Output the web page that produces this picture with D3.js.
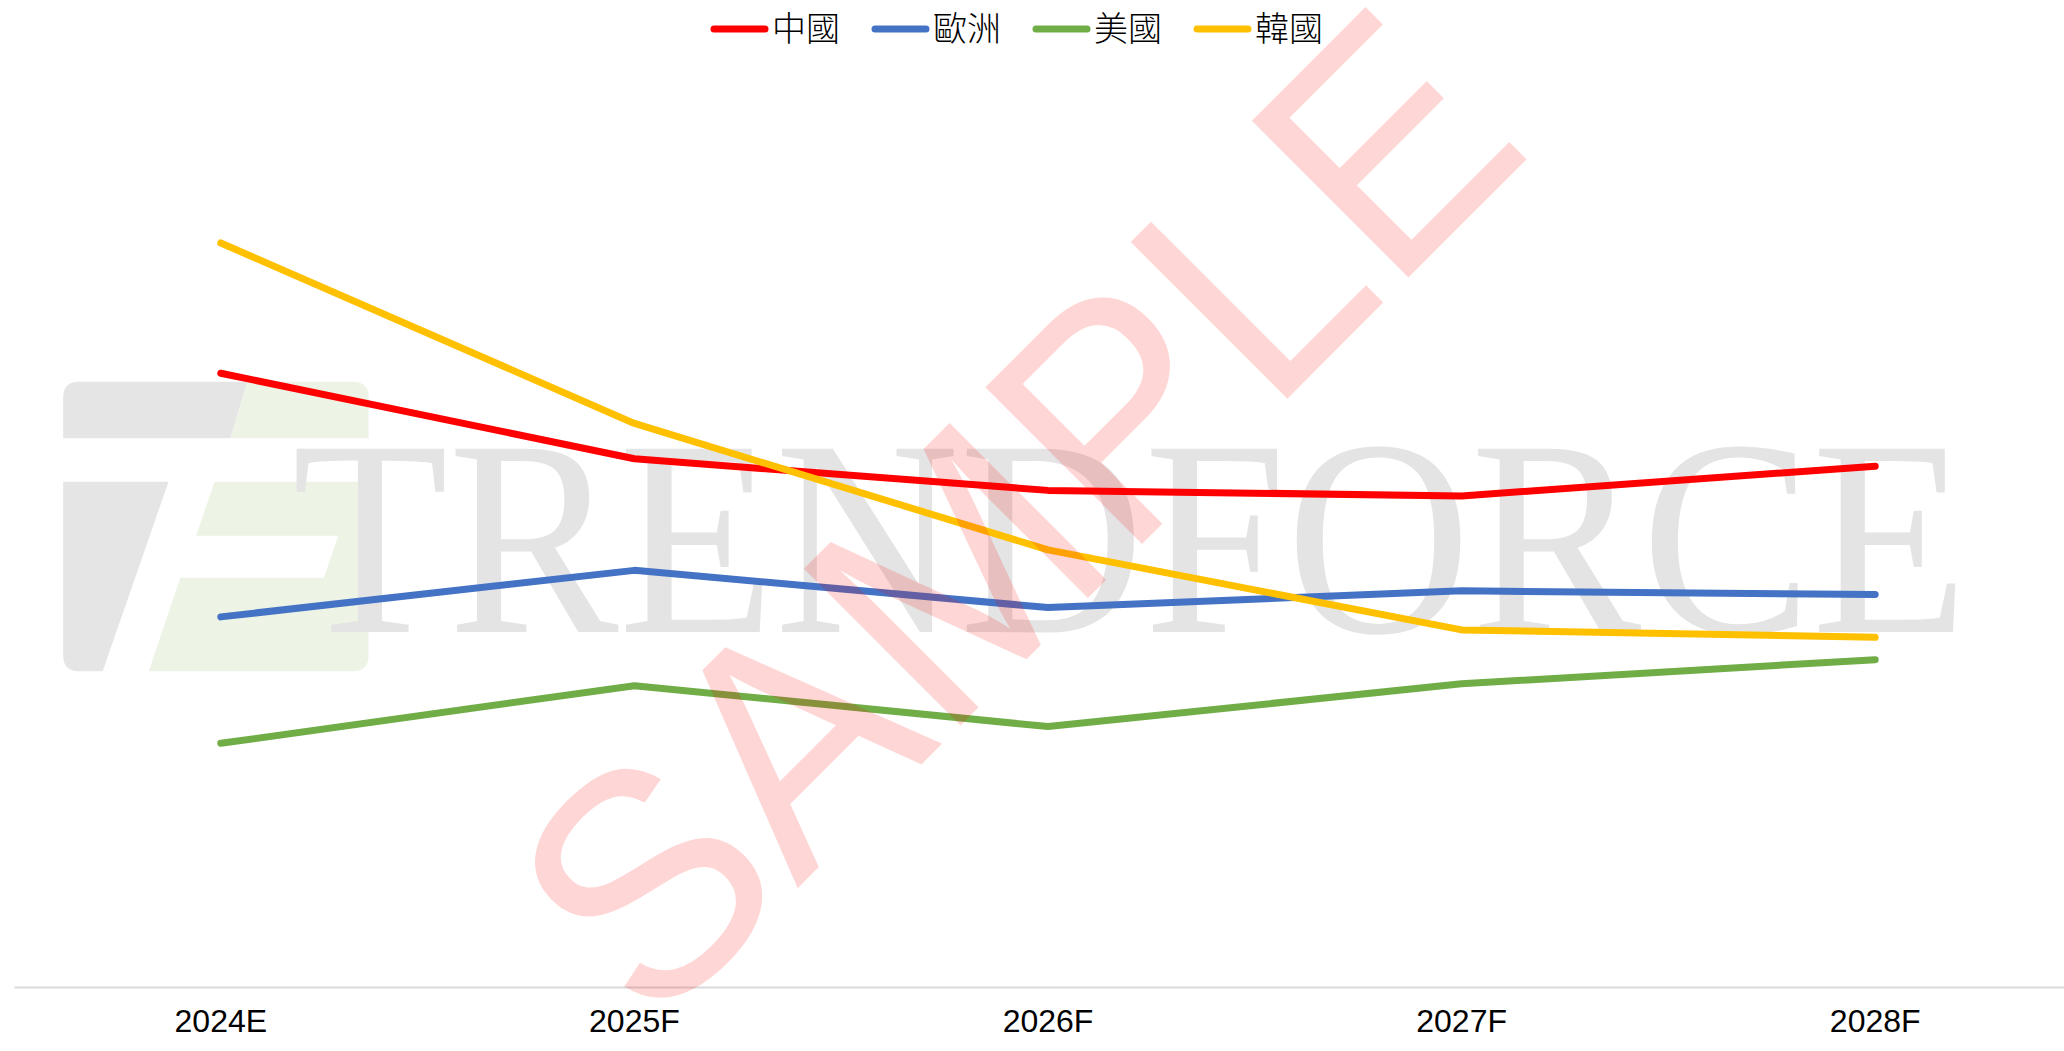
<!DOCTYPE html>
<html>
<head>
<meta charset="utf-8">
<script src="https://cdn.jsdelivr.net/npm/d3@7"></script>
<style>
  html, body { margin: 0; padding: 0; background: #fff; overflow: hidden; }
  svg { display: block; }
</style>
</head>
<body>
<div id="chart-area"></div>
<script>
// data (no axis scale shown, values are relative)
var categories = ["2024E", "2025F", "2026F", "2027F", "2028F"];
var seriesNames = ["中國", "歐洲", "美國", "韓國"];
var china  = [33.0, 28.4, 26.7, 26.4, 28.0];
var europe = [19.9, 22.4, 20.4, 21.3, 21.1];
var usa    = [13.1, 16.2, 14.0, 16.3, 17.6];
var korea  = [40.0, 30.3, 23.5, 19.2, 18.8];
var colors = ["#ff0000", "#4472c4", "#70ad47", "#ffc000"];

var width = 2064, height = 1051;
var margin = {left: 14, right: -18, top: 57, bottom: 64};

var svg = d3.select("#chart-area").append("svg")
    .attr("width", width)
    .attr("height", height);

// ---- watermark (logo + text) ----
var wm = svg.append("g").attr("class", "watermark");
var logo = wm.append("g").attr("transform", "scale(1.3163)");
logo.append("path")   // gray top bar + left leg
    .attr("d", "M60,290 L188,290 L175,333 L48,333 L48,302 Q48,290 60,290 Z" +
               "M48,366 L128,366 L78,510 L60,510 Q48,510 48,498 Z")
    .attr("fill", "#e5e5e5");
logo.append("path")   // green part
    .attr("d", "M188,290 L268,290 Q280,290 280,302 L280,333 L175,333 Z" +
               "M163,366 L280,366 L280,498 Q280,510 268,510 L113,510 L137,439 L246,439 L257,407 L149,407 Z")
    .attr("fill", "#edf3e5");
wm.append("text")
    .attr("x", 292)
    .attr("y", 632)
    .attr("textLength", 1676)
    .attr("lengthAdjust", "spacingAndGlyphs")
    .attr("font-family", "'Liberation Serif', 'DejaVu Serif', serif")
    .attr("font-size", 280)
    .attr("fill", "#e4e4e4")
    .text("TRENDFORCE");

// ---- scales ----
var x = d3.scaleBand()
    .domain(categories)
    .range([margin.left, width - margin.right]);

var y = d3.scaleLinear()
    .domain([0, 50])
    .range([height - margin.bottom, margin.top]);

// x axis
var xAxis = svg.append("g")
    .attr("class", "x axis")
    .attr("transform", "translate(0," + (height - margin.bottom) + ")")
    .call(d3.axisBottom(x).tickSize(0).tickPadding(22));
xAxis.select(".domain")
    .attr("stroke", "#d9d9d9")
    .attr("stroke-width", 2);
xAxis.selectAll("text")
    .attr("font-family", "'Liberation Sans', Arial, sans-serif")
    .attr("font-size", 32)
    .attr("fill", "#000")
    .attr("dy", "0.71em");

// lines
var allSeries = [china, europe, usa, korea];
var line = d3.line()
    .x(function (d, i) { return x(categories[i]) + x.bandwidth() / 2; })
    .y(function (d) { return y(d); });

svg.selectAll(".series")
    .data(allSeries)
    .enter()
    .append("path")
    .attr("class", "series")
    .attr("d", line)
    .attr("fill", "none")
    .attr("stroke", function (d, i) { return colors[i]; })
    .attr("stroke-width", 7)
    .attr("stroke-linecap", "round")
    .attr("stroke-linejoin", "round");

// legend
var legend = svg.append("g").attr("class", "legend");
var item = legend.selectAll(".item")
    .data(seriesNames)
    .enter()
    .append("g")
    .attr("class", "item")
    .attr("transform", function (d, i) { return "translate(" + (714 + i * 161) + ",29)"; });
item.append("line")
    .attr("x1", 0).attr("x2", 51)
    .attr("stroke", function (d, i) { return colors[i]; })
    .attr("stroke-width", 7)
    .attr("stroke-linecap", "round");
item.append("text")
    .attr("x", 58)
    .attr("dy", "0.36em")
    .attr("font-family", "'Noto Sans CJK TC', 'Noto Sans CJK SC', sans-serif")
    .attr("font-size", 34)
    .attr("font-weight", 300)
    .attr("fill", "#000")
    .text(function (d) { return d; });

// SAMPLE watermark on top
svg.append("text")
    .attr("transform", "translate(1012,510) rotate(-45)")
    .attr("text-anchor", "middle")
    .attr("dy", "0.36em")
    .attr("font-family", "'Liberation Sans', Arial, sans-serif")
    .attr("font-size", 322)
    .attr("textLength", 1250)
    .attr("lengthAdjust", "spacingAndGlyphs")
    .attr("fill", "#ff0000")
    .attr("fill-opacity", 0.16)
    .text("SAMPLE");
</script>
</body>
</html>
